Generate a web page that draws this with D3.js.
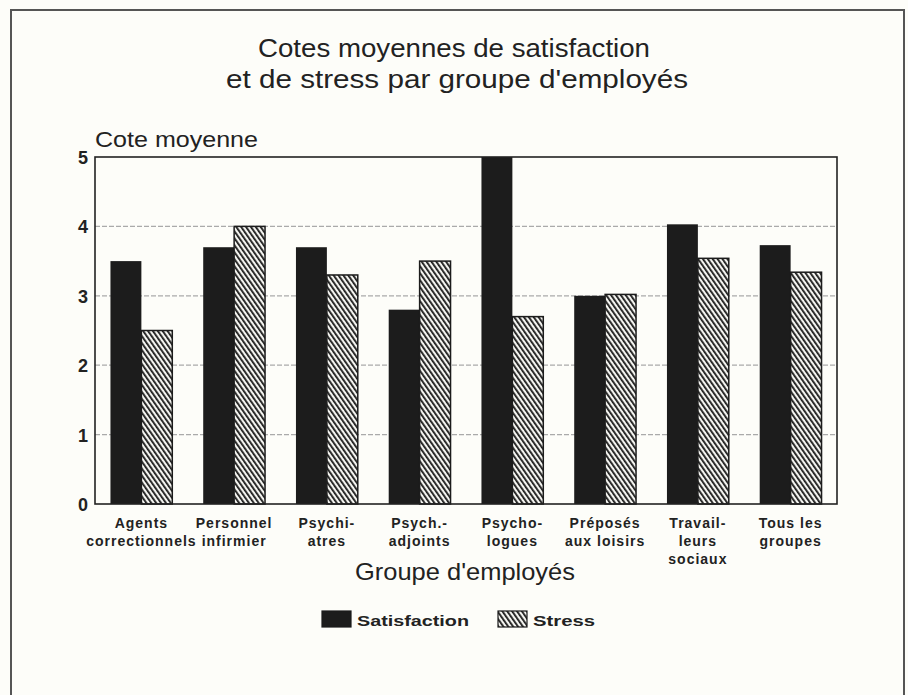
<!DOCTYPE html>
<html>
<head>
<meta charset="utf-8">
<script src="https://cdn.jsdelivr.net/npm/d3@7"></script>
<style>
body { margin: 0; background: #fdfdf9; }
</style>
</head>
<body>
<script>
let width = 908
let height = 695

// data
let groupes = [
  ["Agents", "correctionnels"],
  ["Personnel", "infirmier"],
  ["Psychi-", "atres"],
  ["Psych.-", "adjoints"],
  ["Psycho-", "logues"],
  ["Préposés", "aux loisirs"],
  ["Travail-", "leurs", "sociaux"],
  ["Tous les", "groupes"]
]
let satisfaction = [3.5, 3.7, 3.7, 2.8, 5.0, 3.0, 4.03, 3.73]
let stress = [2.5, 4.0, 3.3, 3.5, 2.7, 3.02, 3.54, 3.34]
let series = ["Satisfaction", "Stress"]
let yTicks = [0, 1, 2, 3, 4, 5]

let plotLeft = 95, plotRight = 837, plotTop = 157, plotBottom = 504

let svg = d3.select("body")
  .append("svg")
  .attr("width", width)
  .attr("height", height)
  .style("font-family", "Liberation Sans, Arial, sans-serif")

let defs = svg.append("defs")
let pat = defs.append("pattern")
  .attr("id", "hatch")
  .attr("patternUnits", "userSpaceOnUse")
  .attr("width", 4)
  .attr("height", 4)
  .attr("patternTransform", "rotate(-35)")
pat.append("rect").attr("width", 4).attr("height", 4).attr("fill", "#f4f4f0")
pat.append("rect").attr("x", 0).attr("width", 1.8).attr("height", 4).attr("fill", "#1a1a1a")

// outer frame
svg.append("path")
  .attr("d", "M11,700 L11,10 L904,10 L904,700")
  .attr("fill", "none")
  .attr("stroke", "#555")
  .attr("stroke-width", 2)

// title
svg.append("text")
  .attr("x", 454).attr("y", 57)
  .attr("text-anchor", "middle")
  .attr("font-size", 26)
  .attr("textLength", 392)
  .attr("lengthAdjust", "spacingAndGlyphs")
  .attr("fill", "#222")
  .text("Cotes moyennes de satisfaction")
svg.append("text")
  .attr("x", 457).attr("y", 88)
  .attr("text-anchor", "middle")
  .attr("font-size", 26)
  .attr("textLength", 462)
  .attr("lengthAdjust", "spacingAndGlyphs")
  .attr("fill", "#222")
  .text("et de stress par groupe d'employés")

let x = d3.scaleBand()
  .domain(d3.range(groupes.length))
  .range([plotLeft, plotRight])
  .paddingInner(1 / 3)
  .paddingOuter(1 / 6)

let xs = d3.scaleBand()
  .domain(series)
  .range([0, x.bandwidth()])

let y = d3.scaleLinear()
  .domain([0, 5])
  .range([plotBottom, plotTop])

// grid
svg.append("g")
  .selectAll("line")
  .data(yTicks.filter(d => d > 0 && d < 5))
  .join("line")
  .attr("x1", plotLeft).attr("x2", plotRight)
  .attr("y1", d => y(d)).attr("y2", d => y(d))
  .attr("stroke", "#aaa")
  .attr("stroke-width", 1.3)
  .attr("stroke-dasharray", "5,2")

// y axis labels
svg.append("g")
  .selectAll("text")
  .data(yTicks)
  .join("text")
  .attr("x", 88)
  .attr("y", d => y(d) + 7)
  .attr("text-anchor", "end")
  .attr("font-size", 18)
  .attr("font-weight", "bold")
  .attr("fill", "#222")
  .text(d => d)

svg.append("text")
  .attr("x", 95).attr("y", 147)
  .attr("font-size", 22)
  .attr("textLength", 163)
  .attr("lengthAdjust", "spacingAndGlyphs")
  .attr("fill", "#222")
  .text("Cote moyenne")

// bars
let g = svg.append("g")
  .selectAll("g")
  .data(groupes)
  .join("g")
  .attr("transform", (d, i) => "translate(" + x(i) + ",0)")

g.append("rect")
  .attr("x", xs("Satisfaction"))
  .attr("y", (d, i) => y(satisfaction[i]))
  .attr("width", xs.bandwidth())
  .attr("height", (d, i) => plotBottom - y(satisfaction[i]))
  .attr("fill", "#1c1c1c")

g.append("rect")
  .attr("x", xs("Stress"))
  .attr("y", (d, i) => y(stress[i]))
  .attr("width", xs.bandwidth())
  .attr("height", (d, i) => plotBottom - y(stress[i]))
  .attr("fill", "url(#hatch)")
  .attr("stroke", "#1c1c1c")
  .attr("stroke-width", 1.5)

// plot frame
svg.append("rect")
  .attr("x", plotLeft).attr("y", plotTop)
  .attr("width", plotRight - plotLeft).attr("height", plotBottom - plotTop)
  .attr("fill", "none")
  .attr("stroke", "#222")
  .attr("stroke-width", 1.6)

// x labels
g.append("text")
  .attr("text-anchor", "middle")
  .attr("font-size", 14)
  .attr("font-weight", "bold")
  .attr("fill", "#222")
  .attr("letter-spacing", 1)
  .selectAll("tspan")
  .data(d => d)
  .join("tspan")
  .attr("x", x.bandwidth() / 2)
  .attr("y", (d, i) => 528 + i * 18)
  .text(d => d)

svg.append("text")
  .attr("x", 465).attr("y", 580)
  .attr("text-anchor", "middle")
  .attr("font-size", 24)
  .attr("textLength", 220)
  .attr("lengthAdjust", "spacingAndGlyphs")
  .attr("fill", "#222")
  .text("Groupe d'employés")

// legend
let legendItems = [
  { name: series[0], fill: "#1c1c1c", bx: 322, tx: 357, w: 112 },
  { name: series[1], fill: "url(#hatch)", bx: 498, tx: 533, w: 62 }
]
let legend = svg.append("g")
  .selectAll("g")
  .data(legendItems)
  .join("g")
legend.append("rect")
  .attr("x", d => d.bx).attr("y", 611).attr("width", 29).attr("height", 16)
  .attr("fill", d => d.fill)
  .attr("stroke", "#1c1c1c").attr("stroke-width", 1.2)
legend.append("text")
  .attr("x", d => d.tx).attr("y", 626)
  .attr("font-size", 15).attr("font-weight", "bold")
  .attr("textLength", d => d.w)
  .attr("lengthAdjust", "spacingAndGlyphs")
  .attr("fill", "#222")
  .text(d => d.name)
</script>
</body>
</html>
